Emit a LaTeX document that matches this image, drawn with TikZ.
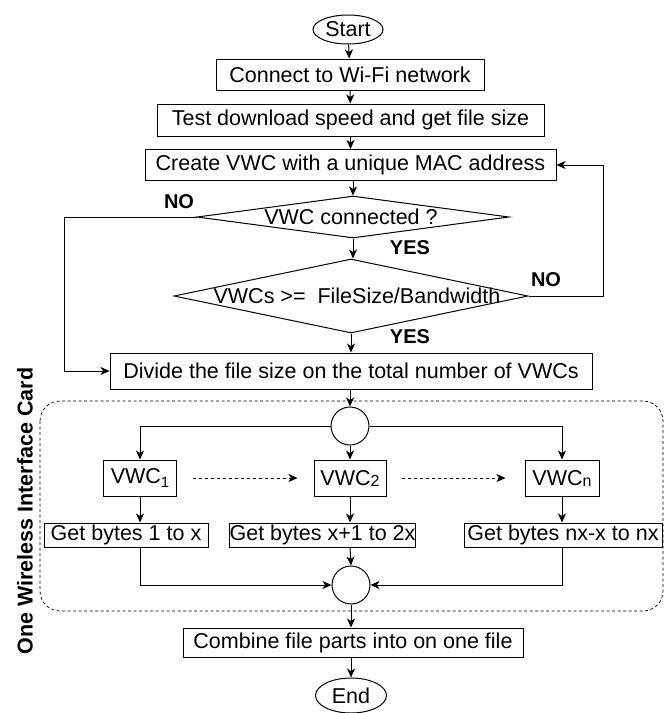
\documentclass[tikz,border=0pt]{standalone}
\usepackage{fontspec}
\setmainfont{Liberation Sans}
\usetikzlibrary{arrows.meta,shapes.geometric,calc}

\begin{document}
\begin{tikzpicture}[x=1pt,y=-1pt,
  line width=1pt,
  every node/.style={font=\fontsize{21.5}{24}\selectfont},
  arr/.style={-{Stealth[length=9pt,width=8pt,inset=2.5pt]}},
  dasharr/.style={arr,dashed,dash pattern=on 3pt off 3pt,line width=0.75pt},
  procbox/.style={draw,rectangle,inner sep=0pt,minimum height=#1},
  procbox/.default=31pt,
  terminal/.style={draw,ellipse,inner sep=0pt,minimum width=70pt,minimum height=29pt},
  decision/.style={draw,diamond,inner sep=0pt},
  junction/.style={draw,circle,inner sep=0pt,minimum size=38pt},
  answer/.style={font=\fontsize{20}{22}\selectfont\bfseries},
]
\useasboundingbox (0,0) rectangle (670,713);

% group frame for the per-card downloads
\draw[dashed,dash pattern=on 3pt off 2.5pt,line width=0.75pt,rounded corners=20pt]
  (40,401) rectangle (663,611);
\node[rotate=90,font=\fontsize{21.5}{24}\selectfont\bfseries] (cardlbl) at (25,511)
  {One Wireless Interface Card};

% main column
\node[terminal] (start) at (348,29.5) {Start};
\node[procbox,minimum width=268pt] (connect) at (350,74.5) {Connect to Wi-Fi network};
\node[procbox=32pt,minimum width=387pt] (test) at (350.5,120) {Test download speed and get file size\hspace{8pt}};
\node[procbox,minimum width=411pt] (create) at (350.5,165) {Create VWC with a unique MAC address};

\node[decision,minimum width=312pt,minimum height=42pt] (d1) at (353,217) {};
\node (d1txt) at (351,217) {VWC connected ?};
\node[decision,minimum width=354pt,minimum height=74pt] (d2) at (351,296) {};
\node (d2txt) at (357,296) {VWCs >=\ \ FileSize/Bandwidth};

\node[procbox=36pt,minimum width=482pt] (divide) at (351,371) {Divide the file size on the total number of VWCs};

% parallel virtual cards
\node[junction] (c1) at (350,426) {};
\node[procbox=36pt,minimum width=73pt] (v1) at (140,478) {VWC\raisebox{-4pt}{\fontsize{15}{15}\selectfont 1}};
\node[procbox=36pt,minimum width=72pt] (v2) at (350,478) {VWC\raisebox{-1pt}{\fontsize{16}{16}\selectfont 2}};
\node[procbox=36pt,minimum width=74pt] (vn) at (562,478) {VWC\raisebox{-1pt}{\fontsize{16}{16}\selectfont n}};

\node[procbox=24pt,minimum width=164pt] (g1) at (126,535) {Get bytes 1 to x};
\node[procbox=24pt,minimum width=139pt] (g2) at (322.5,535) {Get bytes x+1 to 2x};
\node[procbox=24pt,minimum width=198pt] (gn) at (563,535) {Get bytes nx-x to nx};

\node[junction] (c2) at (351,585) {};
\node[procbox=29pt,minimum width=340pt] (combine) at (353,642.5) {Combine file parts into on one file};
\node[terminal,minimum width=71pt,minimum height=35pt] (end) at (351,695.5) {End};

% answers
\node[answer] (no1) at (179,202) {NO};
\node[answer] (yes1) at (410,248) {YES};
\node[answer] (no2) at (546,280) {NO};
\node[answer] (yes2) at (410,337) {YES};

% loop rails
\coordinate (lrail) at (64,0);
\coordinate (rrail) at (603,0);

% connectors
\draw[arr] (start) -- (connect);
\draw[arr] (connect) -- (test);
\draw[arr] (test) -- (create);
\draw[arr] (create.south -| d1.north) -- (d1.north);
\draw[arr] (d1.south) -- (d1.south |- d2.north);
\draw[arr] (d2.south) -- (d2.south |- divide.north);
\draw[arr] (d1.west) -| (lrail |- divide.west) -- (divide.west);
\draw[arr] (d2.east) -| (rrail |- create.east) -- (create.east);
\draw[arr] (divide.south -| c1.north) -- (c1.north);

\draw[arr] (c1.west) -| (v1.north);
\draw[arr] (c1.south) -- (v2.north);
\draw[arr] (c1.east) -| (vn.north);

\draw[dasharr] ([xshift=16pt]v1.east) -- ([xshift=-16pt]v2.west);
\draw[dasharr] ([xshift=15pt]v2.east) -- ([xshift=-19pt]vn.west);

\draw[arr] (v1.south) -- (v1.south |- g1.north);
\draw[arr] (v2.south) -- (v2.south |- g2.north);
\draw[arr] (vn.south) -- (vn.south |- gn.north);

\draw[arr] (v1.south |- g1.south) |- (c2.west);
\draw[arr] (v2.south |- g2.south) -- (c2.north);
\draw[arr] (vn.south |- gn.south) |- (c2.east);

\draw[arr] (c2.south) -- (c2.south |- combine.north);
\draw[arr] (combine.south -| end.north) -- (end.north);
\end{tikzpicture}
\end{document}
